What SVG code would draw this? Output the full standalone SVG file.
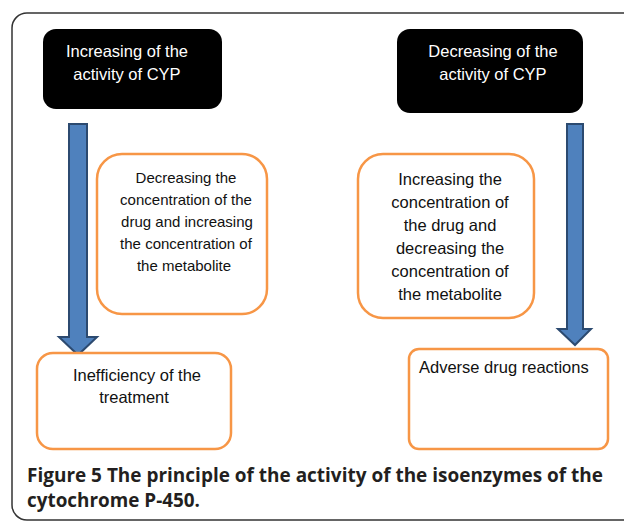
<svg xmlns="http://www.w3.org/2000/svg" width="624" height="521" viewBox="0 0 624 521">
<style>
.frame{fill:#fff;stroke:#333;stroke-width:1.5}
.blk{fill:#000}
.org{fill:#fff;stroke:#F79646;stroke-width:2.5}
.arr{fill:#4F81BD;stroke:#2C4A70;stroke-width:2;stroke-linejoin:miter}
.wt{font-family:"Liberation Sans",Arial,sans-serif;font-size:16.5px;fill:#fff;text-anchor:middle}
.bt{font-family:"Liberation Sans",Arial,sans-serif;font-size:16.5px;fill:#111;text-anchor:middle}
.cap{font-family:"Open Sans","DejaVu Sans",sans-serif;font-weight:bold;font-size:19px;fill:#231F20}
</style>
<rect class="frame" x="12" y="13" width="640" height="507" rx="15"/>
<g id="connectors">
<path class="arr" d="M69,124 H87 V337 H97 L78,355 L59,337 H69 Z"/>
<path class="arr" d="M567,124 H583 V329 H591 L575,345 L558,329 H567 Z"/>
</g>
<g id="node-increasing-cyp">
<rect class="blk" x="43" y="29" width="179" height="80" rx="13"/>
<text class="wt" x="127" y="57">Increasing of the</text>
<text class="wt" x="127" y="80">activity of CYP</text>
</g>
<g id="node-decreasing-cyp">
<rect class="blk" x="397" y="29" width="186" height="84" rx="13"/>
<text class="wt" x="493" y="57">Decreasing of the</text>
<text class="wt" x="493" y="80">activity of CYP</text>
</g>
<g id="node-decrease-drug">
<rect class="org" x="97" y="154" width="170" height="160" rx="25"/>
<text class="bt" style="font-size:15px" x="186" y="183">Decreasing the</text>
<text class="bt" style="font-size:15px" x="186" y="205">concentration of the</text>
<text class="bt" style="font-size:15px" x="187" y="227">drug and increasing</text>
<text class="bt" style="font-size:15px" x="186" y="249">the concentration of</text>
<text class="bt" style="font-size:15px" x="184" y="271">the metabolite</text>
</g>
<g id="node-increase-drug">
<rect class="org" x="358" y="154" width="176" height="164" rx="25"/>
<text class="bt" x="450" y="185">Increasing the</text>
<text class="bt" x="450" y="208">concentration of</text>
<text class="bt" x="450" y="231">the drug and</text>
<text class="bt" x="450" y="254">decreasing the</text>
<text class="bt" x="450" y="277">concentration of</text>
<text class="bt" x="450" y="300">the metabolite</text>
</g>
<g id="node-inefficiency">
<rect class="org" x="37" y="353" width="194" height="96" rx="16"/>
<text class="bt" x="137" y="381">Inefficiency of the</text>
<text class="bt" x="134" y="403">treatment</text>
</g>
<g id="node-adverse">
<rect class="org" x="409" y="349" width="199" height="100" rx="10"/>
<text class="bt" style="text-anchor:start" x="419" y="373">Adverse drug reactions</text>
</g>
<text class="cap" x="27" y="482" textLength="576" lengthAdjust="spacingAndGlyphs">Figure 5 The principle of the activity of the isoenzymes of the</text>
<text class="cap" x="27" y="507" textLength="173" lengthAdjust="spacingAndGlyphs">cytochrome P-450.</text>
</svg>
